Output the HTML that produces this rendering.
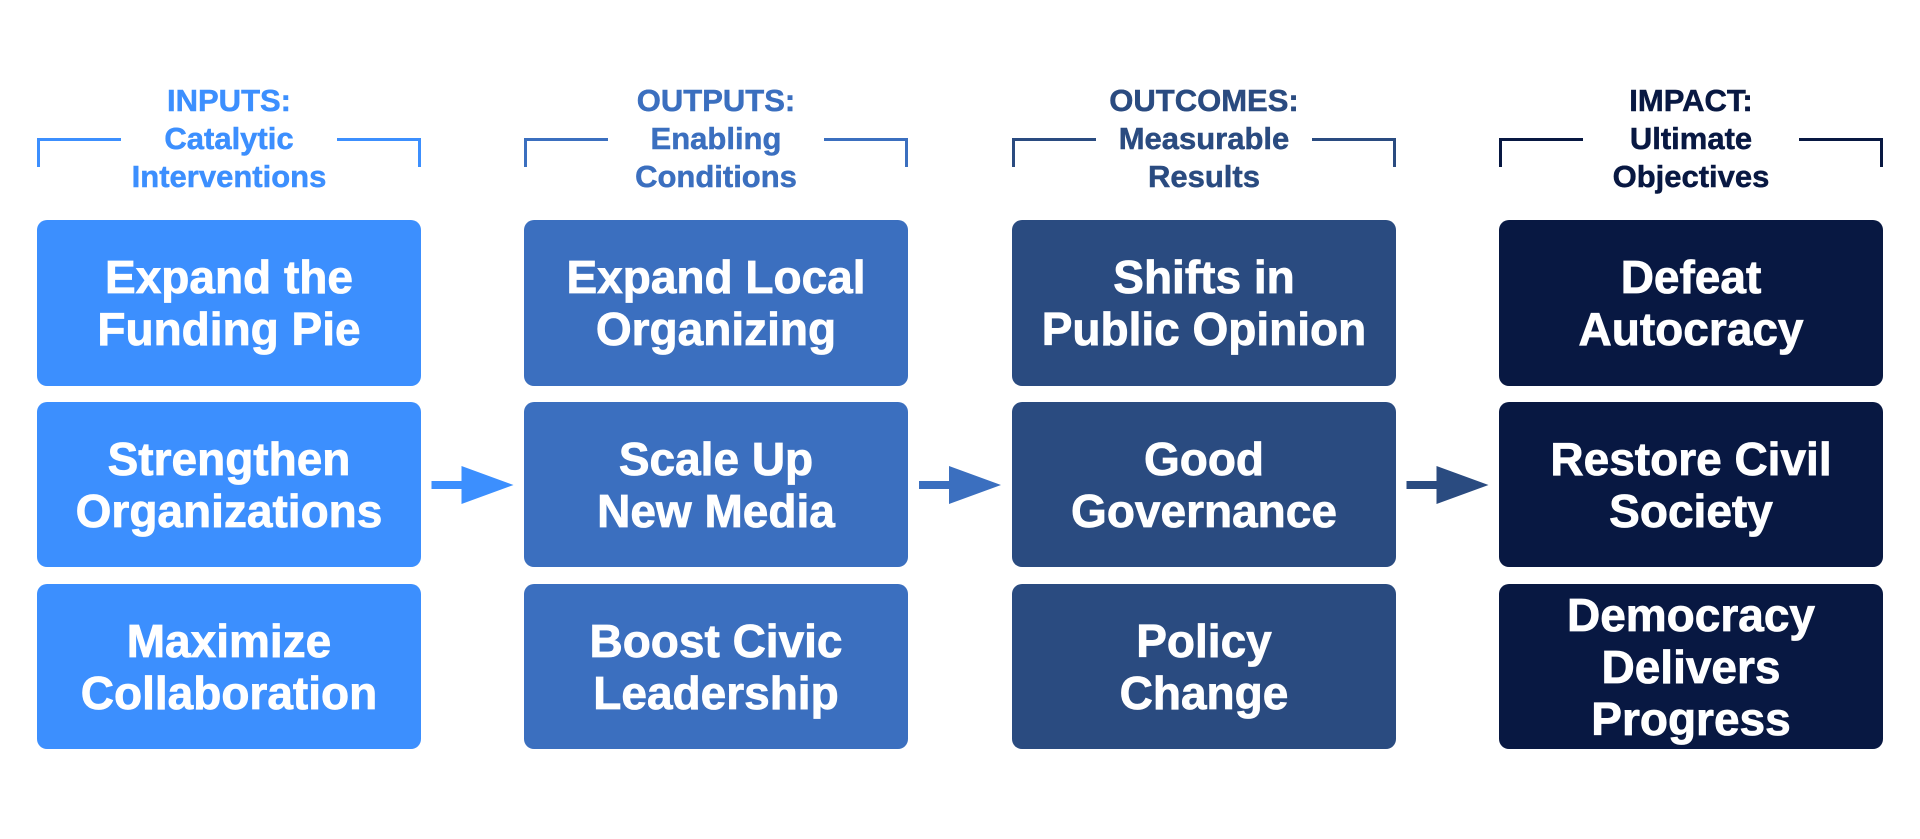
<!DOCTYPE html>
<html>
<head>
<meta charset="utf-8">
<style>
  html, body { margin:0; padding:0; background:#ffffff; }
  body { width:1920px; height:839px; position:relative; overflow:hidden;
         font-family:"Liberation Sans", Arial, sans-serif; }
  .hdr { position:absolute; top:82px; width:384px; text-align:center;
         font-size:31px; line-height:38px; font-weight:bold;
         -webkit-text-stroke:0.5px currentColor; }
  .bl { position:absolute; top:138px; width:81px; height:26px;
        border-top:3px solid; border-left:3px solid; }
  .br { position:absolute; top:138px; width:81px; height:26px;
        border-top:3px solid; border-right:3px solid; }
  .box { position:absolute; width:384px; border-radius:10px; color:#fff;
         display:flex; align-items:center; justify-content:center; text-align:center;
         font-size:46px; line-height:52px; font-weight:bold;
         -webkit-text-stroke:0.8px #fff; }
  .r1 { top:220px; height:166px; }
  .r2 { top:402px; height:165px; }
  .r3 { top:584px; height:165px; }
  .c1 { left:37px; } .c2 { left:524px; } .c3 { left:1012px; } .c4 { left:1499px; }
  .k1 { background:#3c8ffe; } .k2 { background:#3b6fbf; } .k3 { background:#2a4b80; } .k4 { background:#081842; }
  .t1 { color:#3c8ffe; border-color:#3c8ffe; }
  .t2 { color:#3b6fbf; border-color:#3b6fbf; }
  .t3 { color:#2a4b80; border-color:#2a4b80; }
  .t4 { color:#081842; border-color:#081842; }
</style>
</head>
<body>
  <!-- Headers -->
  <div class="hdr c1 t1">INPUTS:<br>Catalytic<br>Interventions</div>
  <div class="hdr c2 t2">OUTPUTS:<br>Enabling<br>Conditions</div>
  <div class="hdr c3 t3">OUTCOMES:<br>Measurable<br>Results</div>
  <div class="hdr c4 t4">IMPACT:<br>Ultimate<br>Objectives</div>

  <!-- Brackets -->
  <div class="bl t1" style="left:37px"></div>
  <div class="br t1" style="left:337px"></div>
  <div class="bl t2" style="left:524px"></div>
  <div class="br t2" style="left:824px"></div>
  <div class="bl t3" style="left:1012px"></div>
  <div class="br t3" style="left:1312px"></div>
  <div class="bl t4" style="left:1499px"></div>
  <div class="br t4" style="left:1799px"></div>

  <!-- Column 1 -->
  <div class="box c1 r1 k1">Expand the<br>Funding Pie</div>
  <div class="box c1 r2 k1">Strengthen<br>Organizations</div>
  <div class="box c1 r3 k1">Maximize<br>Collaboration</div>

  <!-- Column 2 -->
  <div class="box c2 r1 k2">Expand Local<br>Organizing</div>
  <div class="box c2 r2 k2">Scale Up<br>New Media</div>
  <div class="box c2 r3 k2">Boost Civic<br>Leadership</div>

  <!-- Column 3 -->
  <div class="box c3 r1 k3">Shifts in<br>Public Opinion</div>
  <div class="box c3 r2 k3">Good<br>Governance</div>
  <div class="box c3 r3 k3">Policy<br>Change</div>

  <!-- Column 4 -->
  <div class="box c4 r1 k4">Defeat<br>Autocracy</div>
  <div class="box c4 r2 k4">Restore Civil<br>Society</div>
  <div class="box c4 r3 k4">Democracy<br>Delivers<br>Progress</div>

  <!-- Arrows -->
  <svg width="1920" height="839" style="position:absolute;left:0;top:0" xmlns="http://www.w3.org/2000/svg">
    <polygon fill="#3c8ffe" points="431.5,481 461.5,481 461.5,466 513.5,485 461.5,504 461.5,489 431.5,489"/>
    <polygon fill="#3b6fbf" points="919,481 949,481 949,466 1001,485 949,504 949,489 919,489"/>
    <polygon fill="#2a4b80" points="1406.5,481 1436.5,481 1436.5,466 1488.5,485 1436.5,504 1436.5,489 1406.5,489"/>
  </svg>
</body>
</html>
